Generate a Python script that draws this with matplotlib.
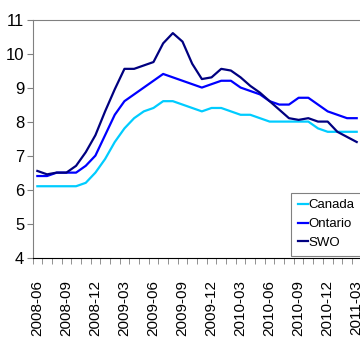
import matplotlib
matplotlib.use("Agg")
import matplotlib.pyplot as plt
import numpy as np

months = ["2008-06", "2008-07", "2008-08", "2008-09", "2008-10", "2008-11",
          "2008-12", "2009-01", "2009-02", "2009-03", "2009-04", "2009-05",
          "2009-06", "2009-07", "2009-08", "2009-09", "2009-10", "2009-11",
          "2009-12", "2010-01", "2010-02", "2010-03", "2010-04", "2010-05",
          "2010-06", "2010-07", "2010-08", "2010-09", "2010-10", "2010-11",
          "2010-12", "2011-01", "2011-02", "2011-03"]

canada = [6.1, 6.1, 6.1, 6.1, 6.1, 6.2, 6.5, 6.9, 7.4, 7.8, 8.1, 8.3,
          8.4, 8.6, 8.6, 8.5, 8.4, 8.3, 8.4, 8.4, 8.3, 8.2, 8.2, 8.1,
          8.0, 8.0, 8.0, 8.0, 8.0, 7.8, 7.7, 7.7, 7.7, 7.7]
ontario = [6.4, 6.4, 6.5, 6.5, 6.5, 6.7, 7.0, 7.6, 8.2, 8.6, 8.8, 9.0,
           9.2, 9.4, 9.3, 9.2, 9.1, 9.0, 9.1, 9.2, 9.2, 9.0, 8.9, 8.8,
           8.6, 8.5, 8.5, 8.7, 8.7, 8.5, 8.3, 8.2, 8.1, 8.1]
swo = [6.55, 6.45, 6.5, 6.5, 6.7, 7.1, 7.6, 8.3, 8.95, 9.55, 9.55, 9.65,
       9.75, 10.3, 10.6, 10.35, 9.7, 9.25, 9.3, 9.55, 9.5, 9.3, 9.05, 8.85,
       8.6, 8.35, 8.1, 8.05, 8.1, 8.0, 8.0, 7.7, 7.55, 7.4]

plt.rcParams["font.family"] = ["Liberation Sans", "DejaVu Sans"]

fig = plt.figure(figsize=(3.6, 3.41), dpi=100)
ax = fig.add_axes([0.0903, 0.2443, 0.914, 0.6985])

x = np.arange(len(months))
ax.plot(x, canada, color="#00CCFF", lw=1.6, label="Canada")
ax.plot(x, ontario, color="#0000FF", lw=1.6, label="Ontario")
ax.plot(x, swo, color="#000080", lw=1.6, label="SWO")

ax.set_xlim(-0.5, len(months) - 0.5)
ax.set_ylim(4, 11)
ax.set_yticks(range(4, 12))
ax.tick_params(axis="y", labelsize=12, length=4, color="#808080", pad=2)

# quarterly labels, tick marks at category boundaries
qpos = x[::3]
ax.set_xticks(qpos)
ax.set_xticklabels([months[i] for i in qpos], rotation=90, fontsize=11)
ax.tick_params(axis="x", which="major", length=0, pad=16)
ax.set_xticks(np.arange(-0.5, len(months)), minor=True)
ax.tick_params(axis="x", which="minor", length=4, color="#808080")

for s in ["left", "top", "right"]:
    ax.spines[s].set_color("#808080")
ax.spines["bottom"].set_color("black")

leg = ax.legend(loc="lower left", bbox_to_anchor=(0.78, 0.0), fontsize=9.5,
                handlelength=0.75, handletextpad=0.05, borderpad=0.5,
                labelspacing=0.5, fancybox=False, framealpha=1,
                edgecolor="#808080", borderaxespad=0.15)
leg.get_frame().set_linewidth(0.8)

fig.savefig("out.png", dpi=100)
